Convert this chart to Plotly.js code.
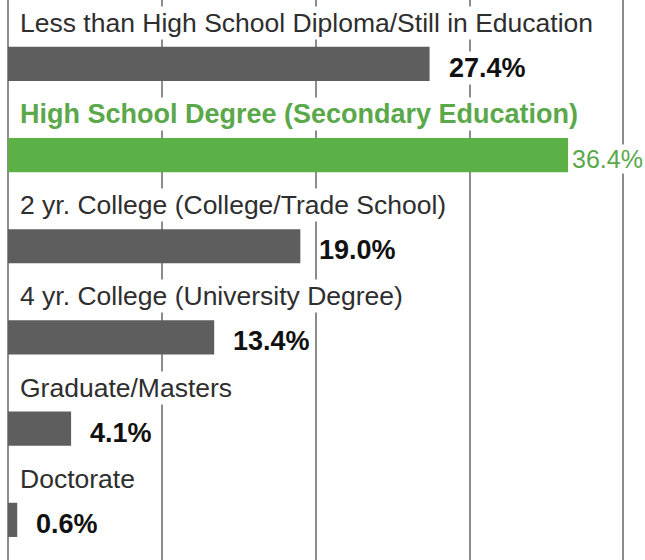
<!DOCTYPE html>
<html>
<head>
<meta charset="utf-8">
<script src="https://cdn.plot.ly/plotly-3.0.1.min.js"></script>
<style>
  body { margin: 0; background: #fff; }
  #chart { width: 645px; height: 560px; }
</style>
</head>
<body>
<div id="chart"></div>
<script>
const categories = [
    "Less than High School Diploma/Still in Education",
    "High School Degree (Secondary Education)",
    "2 yr. College (College/Trade School)",
    "4 yr. College (University Degree)",
    "Graduate/Masters",
    "Doctorate"
];
const values = [27.4, 36.4, 19.0, 13.4, 4.1, 0.6];
const highlight = 1;

const gray = "#5e5e5e";
const green = "#5cb146";
const greenText = "#5aa84a";
const fontFam = "Liberation Sans, Arial, sans-serif";

let yPos = categories.map((c, i) => i);
let barColors = values.map((v, i) => i === highlight ? green : gray);

let annotations = [];
for (let i = 0; i < categories.length; i++) {
    let isHi = i === highlight;
    annotations.push({
        x: 0, y: i, xref: "x", yref: "y",
        xanchor: "left", yanchor: "middle",
        xshift: 10, yshift: 41,
        showarrow: false,
        bgcolor: "#ffffff",
        text: isHi ? "<b>" + categories[i] + "</b>" : categories[i],
        font: {family: fontFam, size: isHi ? 27 : 26.5, color: isHi ? greenText : "#2e2e2e"}
    });
    let valLabel = {
        x: values[i], y: i, xref: "x", yref: "y",
        xanchor: "left", yanchor: "middle",
        xshift: 17, yshift: -4,
        showarrow: false,
        bgcolor: "#ffffff",
        text: "<b>" + values[i].toFixed(1) + "%</b>",
        font: {family: fontFam, size: 27, color: "#111111"}
    };
    // highlighted value: pinned to the right edge so it is not cut off
    if (isHi) {
        valLabel.x = 1;
        valLabel.xref = "paper";
        valLabel.xanchor = "right";
        valLabel.xshift = -1;
        valLabel.borderpad = 0;
        valLabel.text = values[i].toFixed(1) + "%";
        valLabel.font = {family: fontFam, size: 25, color: greenText};
    }
    annotations.push(valLabel);
}

Plotly.newPlot("chart", [{
    type: "bar",
    orientation: "h",
    x: values,
    y: yPos,
    width: 0.375,
    marker: {color: barColors},
    hoverinfo: "skip"
}], {
    width: 645,
    height: 560,
    margin: {l: 8, r: 0, t: 0, b: 0},
    paper_bgcolor: "#ffffff",
    plot_bgcolor: "#ffffff",
    showlegend: false,
    xaxis: {
        range: [0, 41.4],
        dtick: 10,
        showticklabels: false,
        showgrid: true,
        gridcolor: "#8c8c8c",
        gridwidth: 1.5,
        zeroline: true,
        zerolinecolor: "#8c8c8c",
        zerolinewidth: 1.5
    },
    yaxis: {
        range: [5.44, -0.70],
        showticklabels: false,
        showgrid: false,
        zeroline: false
    },
    annotations: annotations
}, {displayModeBar: false});
</script>
</body>
</html>
